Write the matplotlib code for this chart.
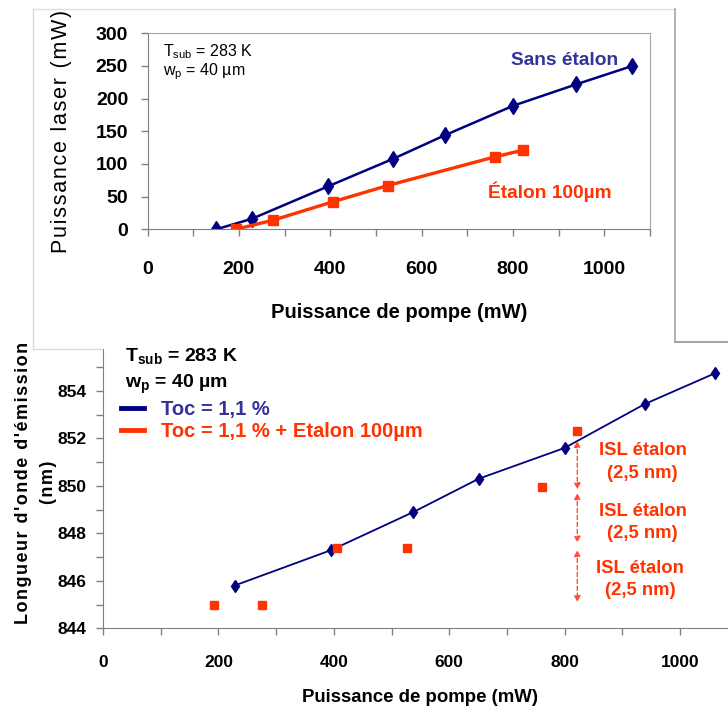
import matplotlib

matplotlib.use("Agg")
import matplotlib.pyplot as plt
from matplotlib.lines import Line2D
from matplotlib.patches import Rectangle
from matplotlib.ticker import MultipleLocator

plt.rcParams["font.family"] = ["Liberation Sans", "DejaVu Sans"]
plt.rcParams["mathtext.fontset"] = "custom"
plt.rcParams["mathtext.rm"] = "Liberation Sans"
plt.rcParams["mathtext.bf"] = "Liberation Sans:bold"

W, H = 728, 711

# --- data ---
pump_sans = [150, 228, 396, 538, 651, 800, 939, 1061]
power_sans = [0, 16, 66, 108, 144, 189, 222, 250]
pump_etalon = [193, 275, 405, 526, 761, 821]
power_etalon = [0, 14, 42, 67, 111, 121]

pump_wl = pump_sans[1:]
wl_sans = [845.8, 847.3, 848.9, 850.3, 851.6, 853.45, 854.75]
wl_etalon = [845.0, 845.0, 847.4, 847.4, 849.95, 852.3]

isl_x = 822
isl_arrows = [(851.9, 849.85), (849.7, 847.6), (847.3, 845.1)]
isl_label_x = [935, 935, 931]
isl_label_y = [851.0, 848.45, 846.05]

top_xticks = [0, 200, 400, 600, 800, 1000]
top_yticks = [0, 50, 100, 150, 200, 250, 300]
bot_yticks = [844, 846, 848, 850, 852, 854, 856]

NAVY = "#000080"
NAVY_TEXT = "#333399"
RED = "#FF3300"
ARROW_RED = "#FF4D33"
AXIS_GREY = "#808080"


def fx(px):
    return px / W


def fy(py):
    return 1 - py / H


def spaced(s):
    # the reference letter-spaces its axis titles
    return "\u200a".join(s)


fig = plt.figure(figsize=(W / 100, H / 100), dpi=100)

# ---------------- bottom chart: emission wavelength ----------------
ax_b = fig.add_axes(
    [fx(103), fy(628.3), (737.7 - 103) / W, (628.3 - 343.5) / H],
    zorder=0,
)
ax_b.plot(pump_wl, wl_sans, color=NAVY, linewidth=1.3,
          marker="d", markersize=6.5, markeredgecolor=NAVY)
ax_b.plot(pump_etalon, wl_etalon, linestyle="none", marker="s",
          markersize=6, color=RED, markeredgecolor=RED)

for (hi, lo) in isl_arrows:
    ax_b.annotate(
        "", xy=(isl_x, lo), xytext=(isl_x, hi),
        arrowprops=dict(arrowstyle="<|-|>", color=ARROW_RED,
                        linestyle=(0, (3, 2)), linewidth=1,
                        shrinkA=0, shrinkB=0, mutation_scale=9),
    )
for lx, ly in zip(isl_label_x, isl_label_y):
    ax_b.text(lx, ly, "ISL étalon\n(2,5 nm)", ha="center", va="center",
              color=RED, fontsize=13.3, fontweight="bold", linespacing=1.42)

ax_b.set_xlim(0, 1100)
ax_b.set_ylim(844, 856)
ax_b.set_xticks(top_xticks, [str(t) for t in top_xticks],
                fontweight="bold", fontsize=12.5)
ax_b.xaxis.set_minor_locator(MultipleLocator(100))
ax_b.set_yticks(bot_yticks, [str(t) for t in bot_yticks],
                fontweight="bold", fontsize=12.5)
ax_b.yaxis.set_minor_locator(MultipleLocator(1))
ax_b.tick_params(axis="both", which="both", direction="out", length=5,
                 width=1, color=AXIS_GREY)
ax_b.tick_params(axis="x", pad=14)
ax_b.tick_params(axis="y", pad=7)
for side in ("top", "right"):
    ax_b.spines[side].set_visible(False)
for side in ("left", "bottom"):
    ax_b.spines[side].set_color(AXIS_GREY)

handles = [Line2D([], [], color=NAVY, linewidth=3.5),
           Line2D([], [], color=RED, linewidth=3.5)]
leg = ax_b.legend(
    handles, ["Toc = 1,1 %", "Toc = 1,1 % + Etalon 100µm"],
    loc="upper left", bbox_to_anchor=(fx(121), fy(400)),
    bbox_transform=fig.transFigure, frameon=False, borderpad=0,
    borderaxespad=0, handlelength=1.15, handletextpad=0.85,
    labelspacing=0.15, prop={"weight": "bold", "size": 14.5},
)
for txt, col in zip(leg.get_texts(), [NAVY_TEXT, RED]):
    txt.set_color(col)

fig.text(fx(125), fy(362), r"T$_{\mathbf{sub}}$ = 283 K", fontsize=14,
         fontweight="bold", va="baseline")
fig.text(fx(125), fy(388), r"w$_{\mathbf{p}}$ = 40 µm", fontsize=14,
         fontweight="bold", va="baseline")
fig.text(fx(420), fy(697), "Puissance de pompe (mW)", ha="center",
         va="center", fontsize=13.4, fontweight="bold")
fig.text(fx(36), fy(482.5),
         spaced("Longueur d'onde d'émission") + "\n" + spaced("(nm)"),
         rotation=90, ha="center", va="center", fontsize=13,
         fontweight="bold", linespacing=1.55, multialignment="center")

# ---------------- white panel of the top chart ----------------
fig.add_artist(Rectangle((fx(33), fy(349)), (675 - 33) / W, (349 - 9) / H,
                         transform=fig.transFigure, facecolor="white",
                         edgecolor="none", zorder=1))
for xs, ys, col, lw in [
    ([33, 33], [9, 349], "#d9d9d9", 1),
    ([33, 675], [9, 9], "#e0e0e0", 1),
    ([33, 101], [349, 349], "#d9d9d9", 1),
    ([675, 675], [9, 342], "#a6a6a6", 1.2),
    ([675, 728], [342, 342], "#a6a6a6", 1.5),
]:
    fig.add_artist(Line2D([fx(x) for x in xs], [fy(y) for y in ys],
                          transform=fig.transFigure, color=col,
                          linewidth=lw, zorder=1.5))

# ---------------- top chart: laser power ----------------
ax_t = fig.add_axes(
    [fx(147.6), fy(229.3), (650 - 147.6) / W, (229.3 - 33.3) / H],
    zorder=2,
)
ax_t.set_facecolor("none")
ax_t.plot(pump_sans, power_sans, color=NAVY, linewidth=1.8,
          marker="d", markersize=8.5, markeredgecolor=NAVY)
ax_t.plot(pump_etalon, power_etalon, color=RED, linewidth=2.4,
          marker="s", markersize=7.5, markeredgecolor=RED)

ax_t.set_xlim(0, 1100)
ax_t.set_ylim(0, 300)
ax_t.set_xticks(top_xticks, [str(t) for t in top_xticks],
                fontweight="bold", fontsize=14)
ax_t.xaxis.set_minor_locator(MultipleLocator(100))
ax_t.set_yticks(top_yticks, [str(t) for t in top_yticks],
                fontweight="bold", fontsize=14)
ax_t.tick_params(axis="both", which="both", direction="out", length=5,
                 width=1, color=AXIS_GREY)
ax_t.tick_params(axis="x", pad=18)
ax_t.tick_params(axis="y", pad=9)
for side in ("top", "right"):
    ax_t.spines[side].set_color("#a6a6a6")
for side in ("left", "bottom"):
    ax_t.spines[side].set_color(AXIS_GREY)

ax_t.text(914, 259, "Sans étalon", ha="center", va="center",
          color=NAVY_TEXT, fontsize=13.8, fontweight="bold")
ax_t.text(881, 57, "Étalon 100µm", ha="center", va="center",
          color=RED, fontsize=13.8, fontweight="bold")

fig.text(fx(163), fy(56.7), r"T$_{\mathrm{sub}}$ = 283 K", fontsize=11.5,
         va="baseline", zorder=3)
fig.text(fx(163), fy(75.5), r"w$_{\mathrm{p}}$ = 40 µm", fontsize=11.5,
         va="baseline", zorder=3)
fig.text(fx(399), fy(313), "Puissance de pompe (mW)", ha="center",
         va="center", fontsize=14.5, fontweight="bold", zorder=3)
fig.text(fx(61.7), fy(131.5), spaced("Puissance laser (mW)"), rotation=90,
         ha="center", va="center", fontsize=15.5, zorder=3)

fig.savefig("out.png", dpi=100)
plt.close(fig)
